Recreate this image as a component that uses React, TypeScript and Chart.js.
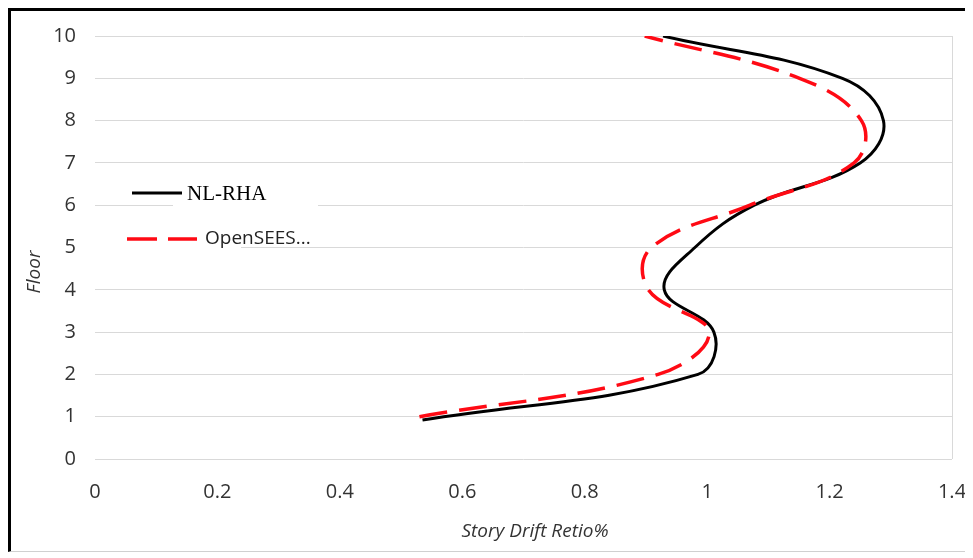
import React, { useEffect, useRef } from "react";
import { Chart, registerables } from "chart.js";

Chart.register(...registerables);

const floors = [1, 2, 3, 4, 5, 6, 7, 8, 9, 10];
const nlRhaFloors = [0.92, 2, 3, 4, 5, 6, 7, 8, 9, 10];
const nlRhaDrift = [0.535, 0.985, 1.011, 0.93, 0.98, 1.077, 1.25, 1.288, 1.221, 0.928];
const openSeesDrift = [0.53, 0.92, 1.003, 0.904, 0.909, 1.07, 1.24, 1.252, 1.151, 0.898];
const seriesNames = ["NL-RHA", "OpenSEES..."];
const xTitle = "Story Drift Retio%";
const yTitle = "Floor";

const overlayPlugin = {
  id: "overlay",
  afterDraw(chart: any) {
    const ctx = chart.ctx;
    ctx.save();
    // legend background
    ctx.fillStyle = "#ffffff";
    ctx.fillRect(162, 165, 145, 50);
    ctx.fillRect(83, 215, 147, 36);
    // legend NL-RHA
    ctx.strokeStyle = "#000000";
    ctx.lineWidth = 3;
    ctx.setLineDash([]);
    ctx.beginPath();
    ctx.moveTo(121, 182);
    ctx.lineTo(171, 182);
    ctx.stroke();
    ctx.fillStyle = "#000000";
    ctx.textBaseline = "middle";
    ctx.textAlign = "left";
    ctx.font = "21px 'Liberation Serif'";
    ctx.fillText(seriesNames[0], 176, 183);
    // legend OpenSEES
    ctx.strokeStyle = "#ff0a14";
    ctx.lineWidth = 3.5;
    ctx.setLineDash([30, 11]);
    ctx.beginPath();
    ctx.moveTo(116, 228);
    ctx.lineTo(186, 228);
    ctx.stroke();
    ctx.setLineDash([]);
    ctx.fillStyle = "#222222";
    ctx.font = "19px 'Open Sans'";
    ctx.fillText(seriesNames[1], 194, 228);
    // axis titles
    ctx.fillStyle = "#333333";
    ctx.font = "italic 19px 'Open Sans'";
    ctx.textAlign = "center";
    ctx.fillText(xTitle, 524, 521);
    ctx.translate(24, 261);
    ctx.rotate(-Math.PI / 2);
    ctx.fillText(yTitle, 0, 0);
    ctx.restore();
  },
};

export default function App() {
  const ref = useRef<HTMLCanvasElement>(null);
  useEffect(() => {
    if (!ref.current) return;
    const chart = new Chart(ref.current, {
      type: "scatter",
      data: {
        datasets: [
          {
            label: seriesNames[1],
            data: floors.map((f, i) => ({ x: openSeesDrift[i], y: f })),
            showLine: true,
            borderColor: "#ff0a14",
            borderWidth: 3.5,
            borderDash: [28, 12],
            pointRadius: 0,
            tension: 0.4,
            order: 0,
          },
          {
            label: seriesNames[0],
            data: nlRhaFloors.map((f, i) => ({ x: nlRhaDrift[i], y: f })),
            showLine: true,
            borderColor: "#000000",
            borderWidth: 3,
            pointRadius: 0,
            tension: 0.4,
            order: 1,
          },
        ],
      },
      options: {
        animation: false,
        responsive: false,
        layout: { padding: { top: 25, right: 13, bottom: 0, left: 0 } },
        plugins: { legend: { display: false }, tooltip: { enabled: false } },
        scales: {
          x: {
            type: "linear",
            min: 0,
            max: 1.4,
            ticks: {
              stepSize: 0.2,
              padding: 21,
              color: "#333333",
              font: { family: "'Open Sans'", size: 20 },
              callback: (v: any) => String(Math.round(Number(v) * 10) / 10),
            },
            grid: {
              drawTicks: false,
              color: (c: any) => (Math.abs(c.tick?.value - 1.4) < 1e-6 ? "#d9d9d9" : "rgba(0,0,0,0)"),
              lineWidth: 1,
            },
            border: { display: false },
            afterFit: (s: any) => {
              s.height = 92;
              s.paddingRight = 0;
              s.paddingLeft = 0;
            },
          },
          y: {
            type: "linear",
            min: 0,
            max: 10,
            ticks: {
              stepSize: 1,
              padding: 19,
              color: "#333333",
              font: { family: "'Open Sans'", size: 20 },
            },
            grid: { drawTicks: false, color: "#d9d9d9", lineWidth: 1 },
            border: { display: false },
            afterFit: (s: any) => {
              s.width = 84;
              s.paddingTop = 0;
              s.paddingBottom = 0;
            },
          },
        },
      },
      plugins: [overlayPlugin],
    });
    return () => chart.destroy();
  }, []);

  return (
    <div
      style={{
        width: 954,
        height: 540,
        borderTop: "3px solid #000",
        borderLeft: "3px solid #000",
        borderBottom: "1px solid #d0d0d0",
        background: "#fff",
      }}
    >
      <canvas ref={ref} width={954} height={540} style={{ display: "block" }} />
    </div>
  );
}
